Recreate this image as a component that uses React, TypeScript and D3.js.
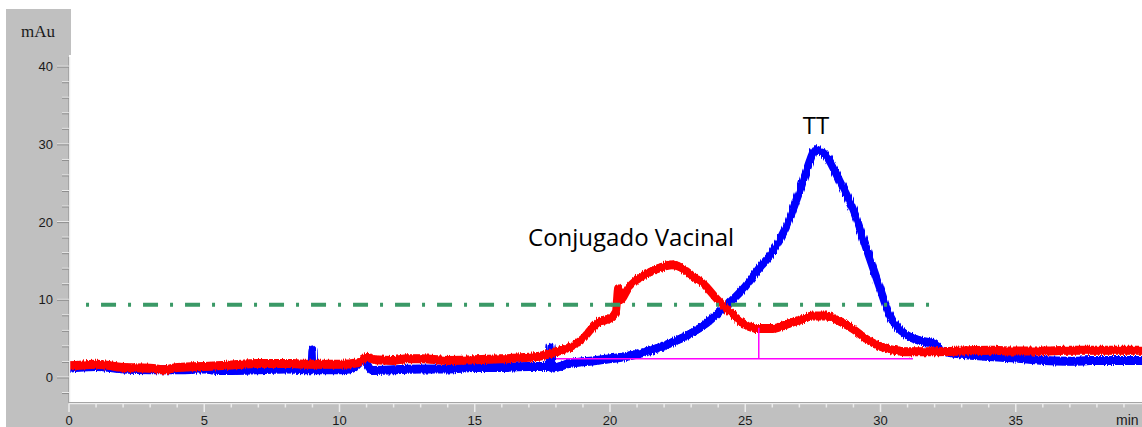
import React from "react";
import * as d3 from "d3";

// ---- data ----
const xTicksMajor = [0, 5, 10, 15, 20, 25, 30, 35];
const yTicksMajor = [0, 10, 20, 30, 40];
const yTicksMinor = [-2, 2, 4, 6, 8, 12, 14, 16, 18, 22, 24, 26, 28, 32, 34, 36, 38];

// TT trace (blue): [minutes, mAu]
const ttSeries: [number, number][] = [
  [0, 1.2], [1, 1.4], [2, 1.1], [3, 1.0], [4, 1.0], [5, 1.1], [5.5, 0.9], [6, 0.9],
  [7, 1.0], [8, 1.1], [8.96, 1.0], [9.0, 3.6], [9.04, 1.0], [10, 1.0], [10.5, 1.2],
  [10.9, 2.2], [11.2, 0.9], [12, 1.0], [13, 1.1], [14, 1.1], [15, 1.3], [16, 1.3],
  [17, 1.4], [17.76, 1.4], [17.8, 4.0], [17.84, 1.2], [18.5, 1.8], [19.5, 2.2], [20, 2.4],
  [21, 3.0], [22, 4.1], [23, 5.7], [23.5, 6.8], [24, 8.3], [24.5, 9.9], [25, 11.7],
  [25.5, 14.0], [26, 16.1], [26.5, 19.3], [27, 23.9], [27.3, 27.0], [27.6, 29.3],
  [28, 28.5], [28.5, 25.2], [29, 21.5], [29.5, 16.4], [30, 11.3], [30.3, 8.3],
  [30.6, 6.6], [31, 5.4], [31.5, 4.7], [32, 4.3], [32.3, 3.4], [33, 3.0], [34, 2.7],
  [35, 2.5], [36, 2.2], [37, 2.1], [38, 2.2], [39, 2.2], [39.8, 2.2],
];

// Conjugado Vacinal trace (red): [minutes, mAu]
const conjSeries: [number, number][] = [
  [0, 1.5], [0.5, 1.6], [1, 1.7], [2, 1.3], [3, 1.2], [3.5, 1.0], [4, 1.3], [5, 1.4],
  [6, 1.6], [7, 1.8], [8, 1.8], [9, 1.7], [10, 1.7], [10.7, 1.9], [11, 2.6], [11.3, 2.3],
  [12, 2.2], [12.5, 2.4], [13, 2.4], [14, 2.2], [15, 2.3], [16, 2.4], [17, 2.6],
  [17.5, 2.8], [18, 3.3], [18.5, 3.9], [19, 5.0], [19.3, 6.2], [19.6, 7.2], [20, 7.6],
  [20.22, 8.5], [20.3, 11.5], [20.38, 10.0], [20.7, 11.6], [21, 12.6], [21.5, 13.6],
  [22, 14.3], [22.3, 14.5], [22.7, 14.0], [23, 13.2], [23.5, 11.9], [24, 9.9],
  [24.5, 8.2], [25, 6.8], [25.5, 6.3], [26, 6.3], [26.5, 6.8], [27, 7.4], [27.5, 7.9],
  [28, 7.9], [28.5, 7.2], [29, 6.2], [29.5, 4.9], [30, 4.0], [30.5, 3.5], [31, 3.3],
  [32, 3.3], [33, 3.4], [34, 3.5], [35, 3.4], [36, 3.4], [37, 3.5], [38, 3.5],
  [39, 3.5], [39.8, 3.5],
];

// threshold (green dash-dot) and integration baseline (magenta)
const thresholdLine = { from: 0.63, to: 31.85, value: 9.36 };
const baseLine = { from: 18.0, to: 31.2, value: 2.4 };
const dropLine = { at: 25.5, from: 2.4, to: 6.4 };

const annotations = [
  { text: "Conjugado Vacinal", t: 16.97, v: 16.9 },
  { text: "TT", t: 27.13, v: 31.3 },
];

export default function App() {
  const W = 1142;
  const H = 427;
  const x = d3.scaleLinear().domain([0, 40]).range([69, 69 + 27.05 * 40]);
  const y = d3.scaleLinear().domain([0, 40]).range([377.5, 66.7]);
  const axisY = 403;
  const axisX = 69;
  const BAND = 4.5;

  const area = d3
    .area<[number, number]>()
    .x((d) => x(d[0]))
    .y0((d) => y(d[1]) + BAND)
    .y1((d) => y(d[1]) - BAND)
    .curve(d3.curveMonotoneX);
  const line = d3
    .line<[number, number]>()
    .x((d) => x(d[0]))
    .y((d) => y(d[1]))
    .curve(d3.curveMonotoneX);

  const xMinor = d3.range(1, 40).filter((t) => t % 5 !== 0);
  const font = "'Liberation Sans', Arial, sans-serif";
  const tickCol = "#ececec";
  const shadowCol = "#8e8e8e";

  return (
    <svg
      width={W}
      height={H}
      style={{ position: "fixed", left: 0, top: 0, display: "block", background: "#fff" }}
    >
      <defs>
        <clipPath id="plotClip">
          <rect x={axisX + 1} y={0} width={W - axisX - 1} height={axisY - 1} />
        </clipPath>
        <filter id="rough" x="-2%" y="-10%" width="104%" height="120%">
          <feTurbulence type="fractalNoise" baseFrequency="0.9 0.03" numOctaves={2} seed={3} result="n" />
          <feDisplacementMap in="SourceGraphic" in2="n" scale={4} xChannelSelector="B" yChannelSelector="R" />
        </filter>
      </defs>
      {/* gray frame */}
      <rect x={6} y={9} width={axisX - 6} height={H - 9} fill="#c0c0c0" />
      <rect x={6} y={9} width={axisX - 6 + 2} height={46} fill="#c0c0c0" />
      <rect x={6} y={axisY} width={W - 6} height={H - axisY} fill="#c0c0c0" />

      {/* traces */}
      <g clipPath="url(#plotClip)">
        <g filter="url(#rough)">
          <path d={area(ttSeries) || ""} fill="#0000ff" />
          <path d={line(ttSeries) || ""} fill="none" stroke="#0000ff" strokeWidth={8} strokeLinejoin="round" />
          <path d={area(conjSeries) || ""} fill="#ff0000" />
          <path d={line(conjSeries) || ""} fill="none" stroke="#ff0000" strokeWidth={8} strokeLinejoin="round" />
        </g>

        <line
          x1={x(thresholdLine.from)}
          x2={x(thresholdLine.to)}
          y1={y(thresholdLine.value)}
          y2={y(thresholdLine.value)}
          stroke="#3a9966"
          strokeWidth={4}
          strokeDasharray="3 12 15 12"
        />
        <line
          x1={x(baseLine.from)}
          x2={x(baseLine.to)}
          y1={y(baseLine.value)}
          y2={y(baseLine.value)}
          stroke="#ff00ff"
          strokeWidth={1.5}
        />
        <line
          x1={x(dropLine.at)}
          x2={x(dropLine.at)}
          y1={y(dropLine.from)}
          y2={y(dropLine.to)}
          stroke="#ff00ff"
          strokeWidth={1.5}
        />
      </g>

      {/* annotations */}
      {annotations.map((a) => (
        <text
          key={a.text}
          x={x(a.t)}
          y={y(a.v)}
          fontFamily="'Open Sans', sans-serif"
          fontSize={24}
          fill="#000"
        >
          {a.text}
        </text>
      ))}

      {/* y axis */}
      <line x1={axisX - 0.5} x2={axisX - 0.5} y1={57} y2={axisY + 1} stroke={shadowCol} strokeWidth={1} />
      <line x1={axisX + 0.5} x2={axisX + 0.5} y1={57} y2={axisY} stroke={tickCol} strokeWidth={1.5} />
      {yTicksMajor.map((v) => (
        <g key={"ym" + v}>
          <line x1={57} x2={axisX} y1={y(v) - 0.5} y2={y(v) - 0.5} stroke={tickCol} strokeWidth={1} />
          <line x1={57} x2={axisX} y1={y(v) + 0.5} y2={y(v) + 0.5} stroke={shadowCol} strokeWidth={1} />
          <text
            x={53}
            y={y(v)}
            textAnchor="end"
            dominantBaseline="central"
            fontFamily={font}
            fontSize={13}
            fill="#1a1a1a"
          >
            {v}
          </text>
        </g>
      ))}
      {yTicksMinor.map((v) => (
        <g key={"yn" + v}>
          <line x1={62} x2={axisX} y1={y(v) - 0.5} y2={y(v) - 0.5} stroke={tickCol} strokeWidth={1} />
          <line x1={62} x2={axisX} y1={y(v) + 0.5} y2={y(v) + 0.5} stroke={shadowCol} strokeWidth={1} />
        </g>
      ))}

      {/* x axis */}
      <line x1={axisX} x2={W} y1={axisY - 0.5} y2={axisY - 0.5} stroke={shadowCol} strokeWidth={1} />
      <line x1={axisX} x2={W} y1={axisY + 0.5} y2={axisY + 0.5} stroke={tickCol} strokeWidth={1.5} />
      {xMinor.map((t) => (
        <line key={"xn" + t} x1={x(t)} x2={x(t)} y1={axisY} y2={axisY + 4.5} stroke={tickCol} strokeWidth={1.5} />
      ))}
      {xTicksMajor.map((t) => (
        <g key={"xm" + t}>
          <line x1={x(t)} x2={x(t)} y1={axisY} y2={axisY + 9} stroke={tickCol} strokeWidth={1.5} />
          <text x={x(t)} y={425} textAnchor="middle" fontFamily={font} fontSize={13} fill="#1a1a1a">
            {t}
          </text>
        </g>
      ))}
      <text x={1116} y={425} fontFamily={font} fontSize={14} fill="#1a1a1a">
        min
      </text>

      {/* y unit */}
      <text
        x={38}
        y={37}
        textAnchor="middle"
        fontFamily="'Liberation Serif', 'Times New Roman', serif"
        fontSize={17}
        fill="#1a1a1a"
      >
        mAu
      </text>
    </svg>
  );
}
